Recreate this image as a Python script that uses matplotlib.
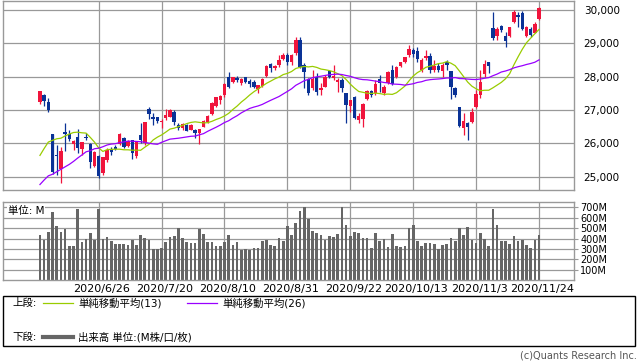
import numpy as np
import matplotlib.pyplot as plt
from matplotlib.lines import Line2D
from matplotlib.patches import Rectangle
from matplotlib.transforms import ScaledTranslation

plt.rcParams['font.family'] = ['DejaVu Sans', 'Noto Sans CJK JP']

# closes before the first visible day (for the moving averages)
prior_close = [23724, 23749, 23883, 23664, 23875, 24331, 24221, 23765, 23248, 23625,
               23685, 24597, 24206, 24575, 24474, 24465, 24995, 25548, 25400, 25383,
               25475, 25742, 26270, 26281, 27111]

# daily candles 2020/6/8 .. 2020/11/24
opens = [27230, 27450, 27250, 26280, 25650, 25230, 26330, 26280, 25990, 26200,
         25830, 26170, 25980, 25330, 25620, 25100, 25500, 25820, 25880, 25980,
         26150, 25920, 26100, 25620, 26250, 26000, 27030, 26800, 26780, 26630,
         26760, 26800, 26950, 26550, 26470, 26560, 26400, 26390, 26320, 26490,
         26640, 26880, 27120, 27300, 27450, 27980, 27840, 27970, 27820, 27990,
         27870, 27830, 27620, 27720, 28030, 28380, 28260, 28350, 28540, 28650,
         28430, 28700, 29100, 28350, 27930, 27650, 28000, 27600, 27700, 28170,
         27970, 27830, 27900, 27500, 27120, 27400, 26700, 26730, 27330, 27560,
         27500, 27940, 27520, 27800, 28200, 27980, 28330, 28450, 28650, 28800,
         28760, 28200, 28560, 28620, 28200, 28320, 28180, 28450, 28170, 27670,
         27100, 26450, 26600, 26650, 27100, 27450, 28070, 28430, 29450, 29230,
         29530, 29220, 29230, 29650, 29840, 29900, 29230, 29430, 29320, 29720]
highs = [27580, 27480, 27350, 26290, 25950, 25890, 26620, 26400, 26100, 26430,
         26040, 26300, 26000, 25760, 25650, 25600, 25850, 25900, 25950, 26300,
         26200, 26100, 26110, 26080, 26600, 26650, 27080, 26900, 26800, 26720,
         27030, 27030, 27000, 26600, 26600, 26580, 26580, 26420, 26440, 26700,
         26850, 27230, 27400, 27450, 27800, 28150, 27990, 28010, 27950, 28000,
         27920, 27900, 27760, 27960, 28360, 28400, 28350, 28650, 28700, 28700,
         28680, 29200, 29200, 28400, 27960, 28200, 28100, 27800, 28050, 28200,
         28340, 27950, 27950, 27500, 27300, 27420, 26900, 27200, 27600, 27600,
         27900, 28050, 27750, 28160, 28350, 28320, 28450, 28600, 28960, 28850,
         28900, 28550, 28800, 28720, 28500, 28400, 28420, 28500, 28170, 27700,
         27100, 26900, 26650, 27050, 27600, 28200, 28500, 28450, 29950, 29500,
         29550, 29350, 29500, 30000, 29950, 29960, 29520, 29500, 29650, 30100]
lows = [27190, 27120, 26950, 25070, 25050, 24820, 25780, 26060, 25800, 25700,
        25650, 26100, 25250, 25300, 24950, 25050, 25450, 25650, 25800, 25950,
        25860, 25900, 25520, 25550, 26000, 25950, 26720, 26550, 26600, 26450,
        26700, 26780, 26550, 26400, 26400, 26370, 26390, 26150, 25990, 26480,
        26600, 26860, 27080, 27180, 27400, 27650, 27820, 27850, 27750, 27800,
        27700, 27650, 27500, 27700, 28000, 28150, 28200, 28300, 28500, 28350,
        28350, 28650, 28250, 27660, 27450, 27600, 27450, 27450, 27680, 27950,
        27900, 27550, 27550, 26600, 26950, 26730, 26600, 26500, 27300, 27400,
        27450, 27550, 27450, 27780, 27750, 27950, 28300, 28400, 28600, 28600,
        28450, 28150, 28500, 28120, 28150, 28150, 28000, 28200, 27330, 27400,
        26500, 26250, 26100, 26600, 27050, 27350, 28000, 28100, 29100, 29100,
        29350, 28900, 29200, 29600, 29500, 29400, 29200, 29200, 29300, 29700]
closes = [27572, 27272, 26990, 25128, 25606, 25763, 26290, 26120, 26080, 25871,
          26025, 26156, 25445, 25745, 25016, 25596, 25813, 25735, 25827, 26287,
          25890, 26067, 25706, 26075, 26085, 26643, 26870, 26735, 26672, 26680,
          26840, 27005, 26652, 26470, 26584, 26379, 26540, 26314, 26428, 26664,
          26828, 27201, 27387, 27433, 27791, 27686, 27976, 27896, 27931, 27844,
          27778, 27692, 27739, 27930, 28308, 28248, 28331, 28492, 28653, 28430,
          28645, 29100, 28292, 28133, 27500, 27940, 27534, 27666, 27993, 27995,
          28032, 27902, 27657, 27148, 27288, 26763, 26815, 27174, 27584, 27452,
          27782, 27817, 27683, 28149, 27773, 28303, 28426, 28587, 28838, 28680,
          28515, 28494, 28607, 28196, 28309, 28211, 28364, 28336, 27685, 27464,
          26520, 26660, 26502, 26925, 27481, 27848, 28390, 28323, 29158, 29421,
          29398, 29080, 29480, 29950, 29784, 29438, 29483, 29263, 29591, 30046]
volume = [438, 390, 460, 658, 524, 466, 495, 332, 332, 687,
          364, 399, 457, 390, 687, 396, 419, 380, 351, 345,
          351, 342, 390, 342, 438, 409, 390, 300, 300, 313,
          371, 419, 428, 502, 409, 367, 355, 361, 495, 447,
          364, 371, 332, 332, 371, 438, 342, 371, 288, 297,
          288, 313, 313, 380, 390, 342, 332, 409, 380, 524,
          438, 553, 668, 703, 591, 476, 457, 438, 390, 428,
          419, 447, 703, 534, 428, 466, 457, 406, 409, 313,
          457, 380, 399, 323, 447, 332, 323, 332, 498, 534,
          380, 332, 361, 361, 351, 303, 342, 351, 409, 380,
          505, 438, 514, 390, 361, 457, 399, 332, 687, 534,
          380, 380, 351, 428, 380, 390, 342, 313, 390, 438]

tick_idx = [14, 29, 44, 59, 74, 89, 104, 119]
tick_labels = ['2020/6/26', '2020/7/20', '2020/8/10', '2020/8/31',
               '2020/9/22', '2020/10/13', '2020/11/3', '2020/11/24']
price_ticks = [25000, 26000, 27000, 28000, 29000, 30000]
vol_ticks = [100, 200, 300, 400, 500, 600, 700]

W, H = 638, 362
RED = '#f0143c'
BLUE = '#0a3296'
GRID = '#999999'

o = np.array(opens); hi = np.array(highs); lo = np.array(lows); c = np.array(closes)
x = np.arange(len(c))
all_close = np.array(prior_close + closes, dtype=float)
ma13 = np.convolve(all_close, np.ones(13) / 13, mode='valid')[-len(c):]
ma26 = np.convolve(all_close, np.ones(26) / 26, mode='valid')[-len(c):]

fig = plt.figure(figsize=(W / 100, H / 100), dpi=100)

def frac(px_l, px_t, px_w, px_h):
    return [px_l / W, 1 - (px_t + px_h) / H, px_w / W, px_h / H]

ax = fig.add_axes(frac(3, 0.7, 571, 189.3))
axv = fig.add_axes(frac(3, 201.7, 571, 78.6))

xlim = (-8.81, 127.33)
for a in (ax, axv):
    a.set_xlim(*xlim)
    a.set_xticks(tick_idx)
    a.grid(color=GRID, lw=0.9, zorder=0)
    a.set_axisbelow(True)
    for s in a.spines.values():
        s.set_color(GRID)
        s.set_linewidth(1.0)
    a.yaxis.tick_right()

# candles
up = c >= o
col = np.where(up, RED, BLUE)
body_lo = np.minimum(o, c)
body_h = np.maximum(np.abs(c - o), 20)
ax.vlines(x, lo, hi, colors=col, lw=0.9, zorder=2)
ax.bar(x, body_h, bottom=body_lo, width=0.82, color=col, lw=0, zorder=2)
ax.plot(x, ma13, color='#99cc00', lw=0.9, zorder=3)
ax.plot(x, ma26, color='#9900ff', lw=0.9, zorder=3)

ax.set_ylim(24600, 30279)
ax.set_yticks(price_ticks)
ax.set_yticklabels([f'{v:,}' for v in price_ticks])
ax.tick_params(axis='y', length=0, pad=7, labelsize=7.5)
ax.tick_params(axis='x', length=0, labelbottom=False)

# volume
axv.bar(x, volume, width=0.64, color='#666666', lw=0, zorder=2)
axv.set_ylim(0, 754)
axv.set_yticks(vol_ticks)
axv.set_yticklabels([f'{v}M' for v in vol_ticks])
axv.tick_params(axis='y', length=3, width=0.8, color=GRID, pad=1.5, labelsize=7)
axv.set_xticklabels(tick_labels)
axv.tick_params(axis='x', length=0, pad=3, labelsize=8)
shift = ScaledTranslation(3 / 100, 0, fig.dpi_scale_trans)
for lab in axv.get_xticklabels():
    lab.set_transform(lab.get_transform() + shift)
axv.text(0.009, 0.88, '単位: M', transform=axv.transAxes, fontsize=7.5,
         va='center', ha='left', zorder=5,
         bbox=dict(facecolor='white', edgecolor='none', pad=0.5))

# legend box
fig.patches.append(Rectangle((3 / W, 1 - 346 / H), 632 / W, 50 / H,
                             transform=fig.transFigure, fill=False,
                             edgecolor='black', lw=1.0))

def fx(px):
    return px / W

def fy(py):
    return 1 - py / H

fig.text(fx(12), fy(303), '上段:', fontsize=7.5, va='center')
fig.lines.append(Line2D([fx(43), fx(73)], [fy(303), fy(303)], color='#99cc00',
                        lw=0.9, transform=fig.transFigure))
fig.text(fx(78), fy(303), '単純移動平均(13)', fontsize=7.5, va='center')
fig.lines.append(Line2D([fx(187), fx(217)], [fy(303), fy(303)], color='#9900ff',
                        lw=0.9, transform=fig.transFigure))
fig.text(fx(222), fy(303), '単純移動平均(26)', fontsize=7.5, va='center')
fig.text(fx(12), fy(337), '下段:', fontsize=7.5, va='center')
fig.lines.append(Line2D([fx(43), fx(73)], [fy(337), fy(337)], color='#666666',
                        lw=3, transform=fig.transFigure))
fig.text(fx(78), fy(337), '出来高 単位:(M株/口/枚)', fontsize=7.5, va='center')

fig.text(fx(637), fy(355), '(c)Quants Research Inc.', fontsize=7, color='#555555',
         ha='right', va='center')

fig.savefig('out.png', dpi=100)
